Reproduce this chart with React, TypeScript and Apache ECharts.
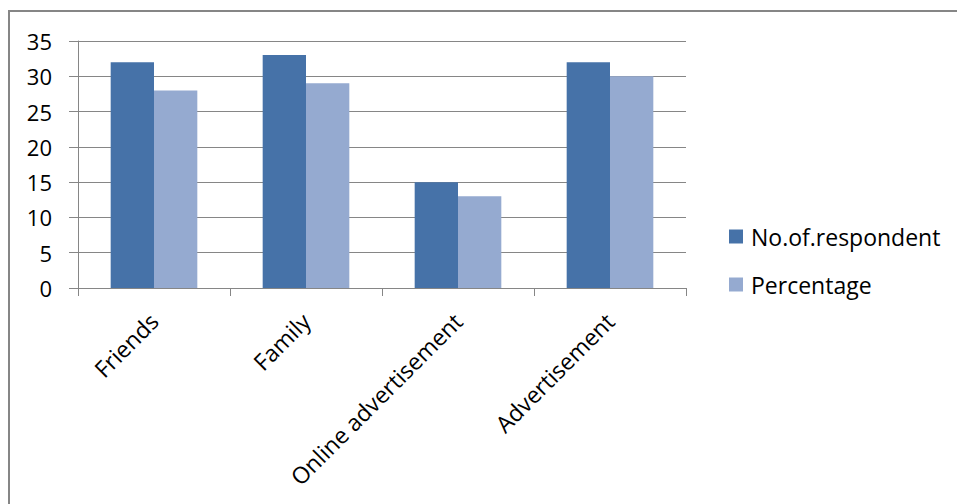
import React, { useEffect, useRef } from "react";
import * as echarts from "echarts";

const categories = ["Friends", "Family", "Online advertisement", "Advertisement"];
const respondents = [32, 33, 15, 32];
const percentage = [28, 29, 13, 30];
const seriesNames = ["No.of.respondent", "Percentage"];

const FONT = "'Open Sans', sans-serif";
const GRID = "#868686";

export default function App() {
  const ref = useRef<HTMLDivElement>(null);
  useEffect(() => {
    if (!ref.current) return;
    const chart = echarts.init(ref.current, null, { renderer: "svg" });
    chart.setOption({
      animation: false,
      backgroundColor: "#ffffff",
      textStyle: { fontFamily: FONT },
      graphic: [
        {
          type: "rect",
          shape: { x: 9, y: 11, width: 1000, height: 600 },
          style: { fill: "none", stroke: GRID, lineWidth: 2 },
          silent: true,
        },
      ],
      grid: { left: 78, right: 271, top: 41, bottom: 216, containLabel: false },
      legend: {
        orient: "vertical",
        left: 729,
        top: 225,
        padding: 0,
        itemWidth: 14,
        itemHeight: 14,
        itemGap: 25,
        icon: "rect",
        data: seriesNames,
        textStyle: { fontFamily: FONT, fontSize: 23, color: "#000", padding: [0, 0, 0, 3] },
      },
      xAxis: {
        type: "category",
        data: categories,
        axisLine: { show: true, lineStyle: { color: GRID, width: 1 } },
        axisTick: { show: true, length: 8, lineStyle: { color: GRID } },
        axisLabel: {
          rotate: 45,
          interval: 0,
          margin: 29,
          fontFamily: FONT,
          fontSize: 23,
          color: "#000",
        },
      },
      yAxis: {
        type: "value",
        min: 0,
        max: 35,
        interval: 5,
        axisLine: { show: true, lineStyle: { color: GRID, width: 1 } },
        axisTick: { show: true, length: 9, lineStyle: { color: GRID } },
        splitLine: { show: true, lineStyle: { color: GRID, width: 1 } },
        axisLabel: { margin: 26, fontFamily: FONT, fontSize: 22, color: "#000" },
      },
      series: [
        {
          name: seriesNames[0],
          type: "bar",
          data: respondents,
          itemStyle: { color: "#4672A8" },
          barGap: "0%",
          barCategoryGap: "43%",
        },
        {
          name: seriesNames[1],
          type: "bar",
          data: percentage,
          itemStyle: { color: "#95AAD0" },
          barGap: "0%",
          barCategoryGap: "43%",
        },
      ],
    });
    return () => chart.dispose();
  }, []);
  return (
    <div
      ref={ref}
      style={{ position: "fixed", left: 0, top: 0, width: 957, height: 504 }}
    />
  );
}
